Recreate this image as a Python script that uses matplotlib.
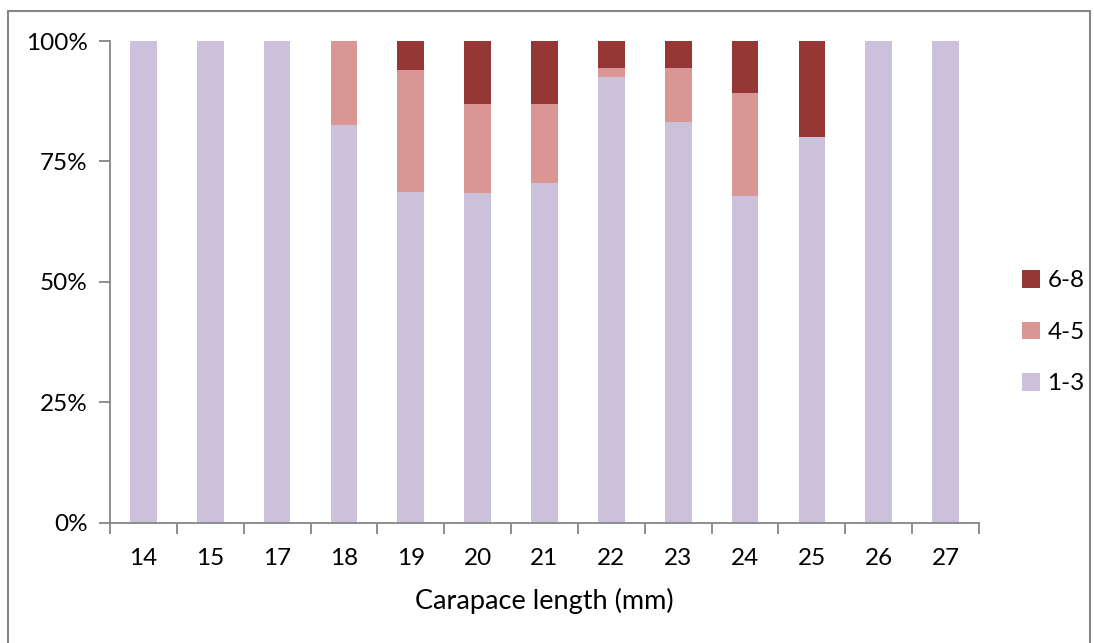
import numpy as np
import matplotlib
matplotlib.use("Agg")
from matplotlib import pyplot as plt
from matplotlib.patches import Rectangle
from matplotlib.ticker import FixedLocator, PercentFormatter

plt.rcParams['font.family'] = ['Lato', 'DejaVu Sans']

# carapace length classes and share of each group (%)
lengths = ["14", "15", "17", "18", "19", "20", "21", "22", "23", "24", "25", "26", "27"]
grp_1_3 = [100, 100, 100, 82.5, 68.6, 68.5, 70.5, 92.5, 83.2, 67.9, 80.0, 100, 100]
grp_4_5 = [0, 0, 0, 17.5, 25.4, 18.5, 16.4, 1.8, 11.1, 21.4, 0, 0, 0]
grp_6_8 = [0, 0, 0, 0, 6.0, 13.0, 13.1, 5.7, 5.7, 10.7, 20.0, 0, 0]

c13 = "#CCC1DA"
c45 = "#D99694"
c68 = "#953735"
grey = "#868686"

fig = plt.figure(figsize=(10.94, 6.43), dpi=100)
ax = fig.add_axes([0.1005, 0.1874, 0.7944, 0.7488])

x = np.arange(len(lengths))
w = 0.4
b1 = ax.bar(x, grp_1_3, w, color=c13, label="1-3")
b2 = ax.bar(x, grp_4_5, w, bottom=grp_1_3, color=c45, label="4-5")
bottom3 = np.array(grp_1_3) + np.array(grp_4_5)
b3 = ax.bar(x, grp_6_8, w, bottom=bottom3, color=c68, label="6-8")

ax.set_xlim(-0.5, len(lengths) - 0.5)
ax.set_ylim(0, 100)
ax.set_yticks([0, 25, 50, 75, 100])
ax.yaxis.set_major_formatter(PercentFormatter(decimals=0))
ax.set_xticks(x)
ax.set_xticklabels(lengths)
ax.xaxis.set_minor_locator(FixedLocator(np.arange(-0.5, len(lengths), 1)))

ax.tick_params(axis="x", which="major", length=0, labelsize=17.5, pad=18)
ax.tick_params(axis="x", which="minor", length=8, width=1.3, color=grey, direction="out")
ax.tick_params(axis="y", length=8, width=1.3, color=grey, direction="out", labelsize=17.5, pad=8)

for s in ["top", "right"]:
    ax.spines[s].set_visible(False)
for s in ["left", "bottom"]:
    ax.spines[s].set_color(grey)
    ax.spines[s].set_linewidth(1.3)

ax.set_xlabel("Carapace length (mm)", fontsize=19.5, labelpad=14)

handles = [b3, b2, b1]
ax.legend(handles, ["6-8", "4-5", "1-3"], loc="center left", bbox_to_anchor=(1.036, 0.395),
          frameon=False, fontsize=17.5, handlelength=0.72, handleheight=0.72,
          handletextpad=0.3, labelspacing=1.25, borderpad=0)

# outer frame around the chart area
fig.patches.append(Rectangle((8 / 1094, -0.05), (1090 - 8) / 1094, 1 - 11 / 643 + 0.05,
                             transform=fig.transFigure, fill=False, edgecolor=grey,
                             linewidth=1.5))

plt.savefig("out.png", dpi=100)
